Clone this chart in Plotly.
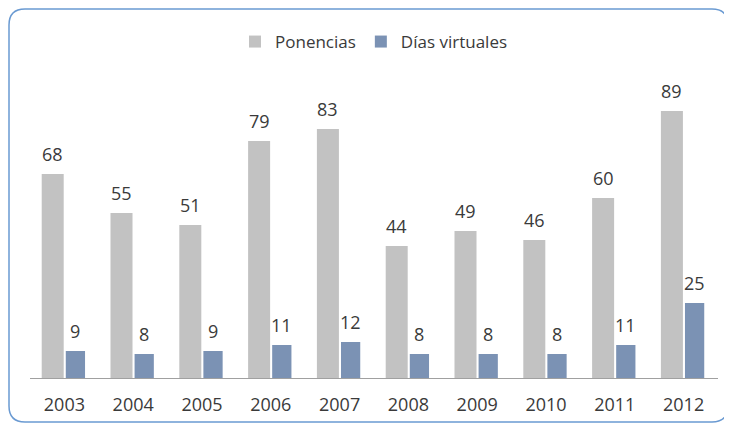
import plotly.graph_objects as go

years = ["2003", "2004", "2005", "2006", "2007", "2008", "2009", "2010", "2011", "2012"]
ponencias = [68, 55, 51, 79, 83, 44, 49, 46, 60, 89]
dias_virtuales = [9, 8, 9, 11, 12, 8, 8, 8, 11, 25]
series_names = ["Ponencias", "Días virtuales"]

GRAY = "#c2c2c2"
BLUE = "#7b92b4"
TEXT = "#3a3a3a"
FONT = "Open Sans"

# page body has an 8px margin, so the figure is drawn 8px smaller
W, H = 724, 417
ML, MR, MT, MB = 22, 14, 70, 47
PW = W - ML - MR
PH = H - MT - MB
YMAX = 100

fig = go.Figure()
fig.add_trace(go.Bar(x=years, y=ponencias, name=series_names[0], marker_color=GRAY,
                     width=0.32, offset=-0.33, marker_line_width=0))
fig.add_trace(go.Bar(x=years, y=dias_virtuales, name=series_names[1], marker_color=BLUE,
                     width=0.28, offset=0.02, marker_line_width=0))

annotations = []
for vals, off in ((ponencias, -0.17), (dias_virtuales, 0.16)):
    for i, v in enumerate(vals):
        annotations.append(dict(x=i + off, y=v, text=str(v), showarrow=False, xref="x", yref="y",
                                yanchor="bottom", yshift=6,
                                font=dict(family=FONT, size=18, color=TEXT)))

# rounded frame in paper coordinates
def px2x(p):
    return (p - ML) / PW

def py2y(p):
    return (H - MB - p) / PH

x0, x1, y0, y1 = px2x(1), px2x(720), py2y(1), py2y(414)
rx, ry = 16 / PW, 16 / PH
path = (f"M {x0+rx},{y0} L {x1-rx},{y0} Q {x1},{y0} {x1},{y0-ry} "
        f"L {x1},{y1+ry} Q {x1},{y1} {x1-rx},{y1} L {x0+rx},{y1} "
        f"Q {x0},{y1} {x0},{y1+ry} L {x0},{y0-ry} Q {x0},{y0} {x0+rx},{y0} Z")

fig.update_layout(
    width=W, height=H,
    margin=dict(l=ML, r=MR, t=MT, b=MB, autoexpand=False),
    paper_bgcolor="white", plot_bgcolor="white",
    barmode="overlay",
    showlegend=True,
    legend=dict(orientation="h", x=0.50, xanchor="center", y=1.12, yanchor="middle",
                font=dict(family=FONT, size=17, color=TEXT), bgcolor="rgba(0,0,0,0)",
                itemwidth=30),
    xaxis=dict(type="category", range=[-0.5, len(years) - 0.5],
               showline=True, linecolor="#a0a0a0", linewidth=1, ticks="", showgrid=False,
               ticklabelstandoff=10,
               tickfont=dict(family=FONT, size=18, color=TEXT), fixedrange=True),
    yaxis=dict(range=[0, YMAX], visible=False, showgrid=False, fixedrange=True),
    annotations=annotations,
    shapes=[dict(type="path", path=path, xref="paper", yref="paper",
                 line=dict(color="#6a9ad2", width=1.5), layer="above")],
)

fig.write_html("out.html")
